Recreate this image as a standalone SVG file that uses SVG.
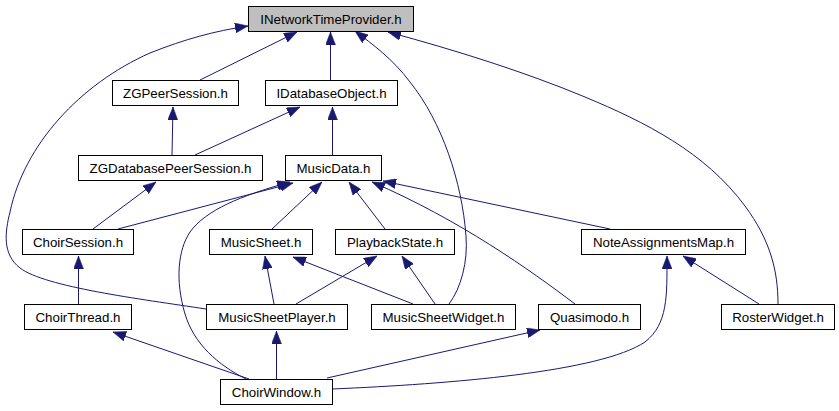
<svg xmlns="http://www.w3.org/2000/svg" width="839" height="411" viewBox="0 0 839 411">
<style>
.node rect{fill:#ffffff;stroke:#000000;stroke-width:1}
.node text{font-family:"Liberation Sans",Arial,Helvetica,sans-serif;font-size:13.3px;fill:#000000;text-anchor:middle}
#n_intp rect{fill:#bfbfbf}
.edges path{fill:none;stroke:#191970;stroke-width:1;marker-end:url(#arr)}
</style>
<defs>
<marker id="arr" viewBox="0 0 13 10" refX="13" refY="5" markerWidth="13" markerHeight="10" markerUnits="userSpaceOnUse" orient="auto">
<path d="M0,0 L13,5 L0,10 z" fill="#191970" stroke="#191970" stroke-width="0.5"/>
</marker>
</defs>
<rect width="839" height="411" fill="#ffffff"/>
<g class="edges">
<path d="M200,80 L297,32"/>
<path d="M330.5,80 L330.5,32"/>
<path d="M172,155 L173,107"/>
<path d="M195,155 L300,107"/>
<path d="M332.5,155 L332.5,107"/>
<path d="M93,229 L156,182"/>
<path d="M118,229 L293,183"/>
<path d="M272,229 L322,182"/>
<path d="M385,229 L349,182"/>
<path d="M610,229 L383,181"/>
<path d="M78.5,304 L78.5,256"/>
<path d="M206,309 C140,299 45,287 20,268 C2,254 5,232 10,212 C24,145 80,84 150,53 C185,39 215,31 248,26"/>
<path d="M274,304 L265,256"/>
<path d="M296,304 L377,256"/>
<path d="M413,304 L293,257"/>
<path d="M435,304 L402,256"/>
<path d="M449,304 C461,288 468,262 466,236 C462,182 442,122 410,82 C392,58 372,44 355,31"/>
<path d="M778,304 C778,270 770,240 745,206 C705,152 645,122 585,97 C525,72 455,50 388,32"/>
<path d="M759,304 L683,256"/>
<path d="M332,389 C450,384 600,372 645,342 C668,324 667,296 667,256"/>
<path d="M327,378 L540,330"/>
<path d="M276.5,379 L276.5,331"/>
<path d="M249,379 L113,332"/>
<path d="M246,379 C218,365 194,344 185,314 C175,280 178,250 190,232 C206,210 240,196 290,182"/>
<path d="M575,304 C530,270 460,220 372,182"/>
</g>
<g id="n_intp" class="node"><rect x="248.5" y="6.5" width="165" height="25"/><text x="331" y="24">INetworkTimeProvider.h</text></g>
<g id="n_zgpeer" class="node"><rect x="112.5" y="80.5" width="126" height="25"/><text x="175.5" y="98">ZGPeerSession.h</text></g>
<g id="n_idbobj" class="node"><rect x="265.5" y="80.5" width="132" height="25"/><text x="331.5" y="98">IDatabaseObject.h</text></g>
<g id="n_zgdbpeer" class="node"><rect x="78.5" y="155.5" width="184" height="25"/><text x="170.5" y="173">ZGDatabasePeerSession.h</text></g>
<g id="n_musicdata" class="node"><rect x="285.5" y="155.5" width="96" height="25"/><text x="333.5" y="173">MusicData.h</text></g>
<g id="n_choirsession" class="node"><rect x="22.5" y="229.5" width="111" height="25"/><text x="78" y="247">ChoirSession.h</text></g>
<g id="n_musicsheet" class="node"><rect x="209.5" y="229.5" width="103" height="25"/><text x="261" y="247">MusicSheet.h</text></g>
<g id="n_playback" class="node"><rect x="335.5" y="229.5" width="119" height="25"/><text x="395" y="247">PlaybackState.h</text></g>
<g id="n_noteassign" class="node"><rect x="581.5" y="229.5" width="164" height="25"/><text x="663.5" y="247">NoteAssignmentsMap.h</text></g>
<g id="n_choirthread" class="node"><rect x="24.5" y="304.5" width="107" height="25"/><text x="78" y="322">ChoirThread.h</text></g>
<g id="n_msplayer" class="node"><rect x="206.5" y="304.5" width="141" height="25"/><text x="277" y="322">MusicSheetPlayer.h</text></g>
<g id="n_mswidget" class="node"><rect x="371.5" y="304.5" width="144" height="25"/><text x="443.5" y="322">MusicSheetWidget.h</text></g>
<g id="n_quasimodo" class="node"><rect x="538.5" y="304.5" width="102" height="25"/><text x="589.5" y="322">Quasimodo.h</text></g>
<g id="n_roster" class="node"><rect x="721.5" y="304.5" width="113" height="25"/><text x="778" y="322">RosterWidget.h</text></g>
<g id="n_choirwindow" class="node"><rect x="220.5" y="379.5" width="112" height="25"/><text x="276.5" y="397">ChoirWindow.h</text></g>
</svg>
